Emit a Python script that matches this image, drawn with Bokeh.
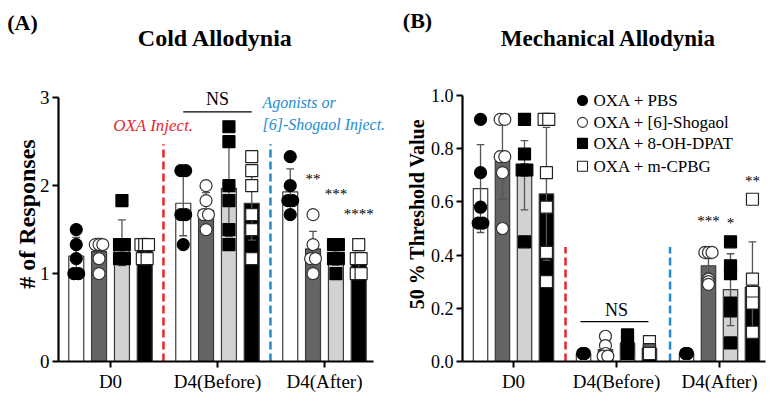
from bokeh.plotting import figure
from bokeh.layouts import row, column
from bokeh.models import Range1d, FixedTicker, Label
from bokeh.embed import file_html
from bokeh.resources import INLINE

# ---------------- data ----------------
timepoints = ["D0", "D4(Before)", "D4(After)"]
groups = ["OXA + PBS", "OXA + [6]-Shogaol", "OXA + 8-OH-DPAT", "OXA + m-CPBG"]

# Cold allodynia (# of responses)
cold_mean_pbs = [1.20, 1.80, 1.93]
cold_mean_shg = [1.25, 1.72, 1.28]
cold_mean_dpat = [1.35, 1.97, 1.22]
cold_mean_cpbg = [1.30, 1.80, 1.13]
cold_sd_pbs = [0.21, 0.37, 0.26]
cold_sd_shg = [0.15, 0.20, 0.20]
cold_sd_dpat = [0.26, 0.55, 0.12]
cold_sd_cpbg = [0.10, 0.42, 0.11]
cold_pts_pbs = [[1.5, 1.33, 1.17, 1.0, 1.0], [2.17, 2.17, 1.67, 1.67, 1.33], [2.33, 2.0, 1.83, 1.83, 1.67]]
cold_pts_shg = [[1.33, 1.33, 1.33, 1.17, 1.0], [2.0, 1.83, 1.67, 1.67, 1.5], [1.67, 1.33, 1.17, 1.17, 1.0]]
cold_pts_dpat = [[1.83, 1.33, 1.33, 1.17, 1.17], [2.67, 2.5, 2.0, 1.83, 1.5, 1.33], [1.33, 1.33, 1.17, 1.17, 1.0]]
cold_pts_cpbg = [[1.33, 1.33, 1.33, 1.17, 1.17], [2.33, 2.17, 2.0, 1.67, 1.5, 1.17], [1.33, 1.17, 1.17, 1.0, 1.0]]
cold_stars = ["", "**", "***", "****"]   # D4(After) vs OXA + PBS
cold_star_y = [0, 2.07, 1.90, 1.68]
cold_yticks = [0, 1, 2, 3]

# Mechanical allodynia (50 % threshold value)
mech_mean_pbs = [0.65, 0.03, 0.03]
mech_mean_shg = [0.76, 0.045, 0.36]
mech_mean_dpat = [0.70, 0.07, 0.27]
mech_mean_cpbg = [0.63, 0.05, 0.28]
mech_sd_pbs = [0.165, 0.004, 0.004]
mech_sd_shg = [0.15, 0.03, 0.027]
mech_sd_dpat = [0.13, 0.03, 0.135]
mech_sd_cpbg = [0.25, 0.02, 0.17]
mech_pts_pbs = [[0.91, 0.71, 0.58, 0.52, 0.52], [0.03, 0.03, 0.03, 0.03, 0.03], [0.03, 0.03, 0.03, 0.03, 0.03]]
mech_pts_shg = [[0.91, 0.91, 0.77, 0.77, 0.71, 0.50], [0.095, 0.06, 0.03, 0.02, 0.02], [0.41, 0.41, 0.41, 0.31, 0.30, 0.29]]
mech_pts_dpat = [[0.91, 0.78, 0.72, 0.72, 0.45], [0.10, 0.075, 0.05, 0.04, 0.03], [0.45, 0.36, 0.33, 0.22, 0.19, 0.07]]
mech_pts_cpbg = [[0.91, 0.91, 0.71, 0.58, 0.41, 0.30], [0.075, 0.045, 0.04, 0.035, 0.03], [0.61, 0.31, 0.26, 0.22, 0.11]]
mech_stars = ["", "***", "*", "**"]
mech_star_y = [0, 0.53, 0.52, 0.68]
mech_yticks = [0.0, 0.2, 0.4, 0.6, 0.8, 1.0]

# ---------------- style ----------------
SERIF = "Liberation Serif"
offsets = [-0.32, -0.107, 0.107, 0.32]
bar_fill = ["white", "#646464", "#d2d2d2", "black"]
mk_shape = ["circle", "circle", "square", "square"]
mk_fill = ["black", "white", "black", "white"]
mk_line = ["black", "#333333", "black", "#222222"]
RED = "#e8272c"
BLUE = "#1e8cd0"


def spread(vals, step=0.045):
    counts = {}
    for v in vals:
        counts[v] = counts.get(v, 0) + 1
    seen = {}
    out = []
    for v in vals:
        n = counts[v]
        k = seen.get(v, 0)
        seen[v] = k + 1
        maxw = 0.07 if n <= 3 else 0.016
        st = step if n <= 1 else min(step, maxw / (n - 1))
        out.append((k - (n - 1) / 2) * st)
    return out


def add_label(p, x, y, text, size, style="normal", color="black", align="center"):
    p.add_layout(Label(x=x, y=y, text=text, text_font=SERIF, text_font_size=size,
                       text_font_style=style, text_color=color, text_align=align,
                       text_baseline="middle"))


def title_fig(width, height):
    t = figure(width=width, height=height, output_backend="svg", toolbar_location=None,
               x_range=Range1d(0, width), y_range=Range1d(0, height),
               min_border_left=0, min_border_right=0, min_border_top=0, min_border_bottom=0)
    t.axis.visible = False
    t.grid.visible = False
    t.outline_line_color = None
    t.background_fill_color = "white"
    t.border_fill_color = "white"
    return t


def make_panel(width, height, border_left, border_top, border_bottom, x_start, x_end, ax_end,
               y_end, means, sds, pts, yticks, ybound, fmt, mksize, ylabel, ylabel_size):
    p = figure(width=width, height=height, output_backend="svg", toolbar_location=None,
               x_range=Range1d(x_start, x_end), y_range=Range1d(0, y_end),
               min_border_left=border_left, min_border_right=0, min_border_top=border_top,
               min_border_bottom=border_bottom)
    p.outline_line_color = None
    p.grid.visible = False
    p.background_fill_color = "white"
    p.border_fill_color = "white"

    for g in range(4):
        xs = [t + offsets[g] for t in range(3)]
        p.vbar(x=xs, top=means[g], width=0.14, bottom=0, fill_color=bar_fill[g],
               line_color="#3a3a3a", line_width=1.2)
        lo = [m - s for m, s in zip(means[g], sds[g])]
        hi = [m + s for m, s in zip(means[g], sds[g])]
        p.segment(x0=xs, y0=lo, x1=xs, y1=hi, line_color="#555555", line_width=1.3)
        p.segment(x0=[x - 0.037 for x in xs], y0=hi, x1=[x + 0.037 for x in xs], y1=hi,
                  line_color="#555555", line_width=1.3)
        p.segment(x0=[x - 0.037 for x in xs], y0=lo, x1=[x + 0.037 for x in xs], y1=lo,
                  line_color="#555555", line_width=1.3)
    for g in range(4):
        px, py = [], []
        for t in range(3):
            js = spread(pts[g][t])
            for v, j in zip(pts[g][t], js):
                px.append(t + offsets[g] + j)
                py.append(v)
        p.scatter(px, py, marker=mk_shape[g], size=mksize, fill_color=mk_fill[g],
                  line_color=mk_line[g], line_width=1.2)

    p.xaxis.ticker = FixedTicker(ticks=[0, 1, 2])
    p.xaxis.major_label_overrides = {i: t for i, t in enumerate(timepoints)}
    p.xaxis.bounds = (x_start, ax_end)
    p.yaxis.ticker = FixedTicker(ticks=yticks)
    p.yaxis.bounds = (0, ybound)
    p.yaxis.major_label_overrides = {v: fmt.format(v) for v in yticks}
    for ax in (p.xaxis[0], p.yaxis[0]):
        ax.axis_line_width = 2.2
        ax.axis_line_color = "black"
        ax.major_tick_line_width = 2
        ax.major_tick_line_color = "black"
        ax.major_tick_in = 0
        ax.major_tick_out = 6
        ax.minor_tick_line_color = None
        ax.major_label_text_font = SERIF
        ax.major_label_text_color = "black"
    p.xaxis.major_label_text_font_size = "19px"
    p.xaxis.major_label_standoff = 3
    p.yaxis.major_label_standoff = 3
    p.yaxis.axis_label = ylabel
    p.yaxis.axis_label_text_font = SERIF
    p.yaxis.axis_label_text_font_style = "bold"
    p.yaxis.axis_label_text_font_size = ylabel_size
    p.yaxis.axis_label_text_color = "black"
    return p


TOP = 63
# ---------------- titles ----------------
tA = title_fig(387, TOP)
add_label(tA, 22, TOP - 22, "(A)", "22px", "bold")
add_label(tA, 215, TOP - 37, "Cold Allodynia", "24px", "bold")
tB = title_fig(387, TOP)
add_label(tB, 30, TOP - 20, "(B)", "22px", "bold")
add_label(tB, 221, TOP - 38, "Mechanical Allodynia", "23px", "bold")

# ---------------- Panel A ----------------
cold_means = [cold_mean_pbs, cold_mean_shg, cold_mean_dpat, cold_mean_cpbg]
cold_sds = [cold_sd_pbs, cold_sd_shg, cold_sd_dpat, cold_sd_cpbg]
cold_pts = [cold_pts_pbs, cold_pts_shg, cold_pts_dpat, cold_pts_cpbg]
pA = make_panel(387, 404 - TOP, 58, 0, 43, -0.486, 2.589, 2.458, 3.355,
                cold_means, cold_sds, cold_pts, cold_yticks, 3, "{:d}", 12,
                "# of Responses", "24px")
pA.yaxis.major_label_text_font_size = "19px"
pA.yaxis.axis_label_standoff = -3

pA.segment(x0=[0.495], y0=[0], x1=[0.495], y1=[2.47], line_color=RED, line_width=2.5, line_dash="8 4")
pA.segment(x0=[1.495], y0=[0], x1=[1.495], y1=[2.47], line_color=BLUE, line_width=2.5, line_dash="8 4")
pA.segment(x0=[0.68], y0=[2.84], x1=[1.32], y1=[2.84], line_color="black", line_width=1.2)
add_label(pA, 1.0, 2.99, "NS", "18px")
add_label(pA, 0.40, 2.68, "OXA Inject.", "17px", "italic", RED)
add_label(pA, 1.42, 2.94, "Agonists or", "16px", "italic", BLUE, "left")
add_label(pA, 1.42, 2.69, "[6]-Shogaol Inject.", "16px", "italic", BLUE, "left")
for g in range(1, 4):
    add_label(pA, 2 + offsets[g], cold_star_y[g], cold_stars[g], "15px")

# ---------------- Panel B ----------------
mech_means = [mech_mean_pbs, mech_mean_shg, mech_mean_dpat, mech_mean_cpbg]
mech_sds = [mech_sd_pbs, mech_sd_shg, mech_sd_dpat, mech_sd_cpbg]
mech_pts = [mech_pts_pbs, mech_pts_shg, mech_pts_dpat, mech_pts_cpbg]
pB = make_panel(387, 404 - TOP, 75, 3, 42, -0.495, 2.534, 2.447, 1.109,
                mech_means, mech_sds, mech_pts, mech_yticks, 1.0, "{:.1f}", 12,
                "50 % Threshold Value", "20px")
pB.yaxis.major_label_text_font_size = "18px"
pB.yaxis.axis_label_standoff = 0

pB.segment(x0=[0.505], y0=[0], x1=[0.505], y1=[0.43], line_color=RED, line_width=2.5, line_dash="8 4")
pB.segment(x0=[1.52], y0=[0], x1=[1.52], y1=[0.43], line_color=BLUE, line_width=2.5, line_dash="8 4")
pB.segment(x0=[0.65], y0=[0.15], x1=[1.31], y1=[0.15], line_color="black", line_width=1.2)
add_label(pB, 1.0, 0.195, "NS", "18px")
for g in range(1, 4):
    add_label(pB, 2 + offsets[g], mech_star_y[g], mech_stars[g], "15px")

leg_y = [0.981, 0.899, 0.820, 0.734]
pB.scatter([0.67] * 4, leg_y, marker=mk_shape, size=10, fill_color=mk_fill, line_color=mk_line, line_width=1.1)
for g in range(4):
    add_label(pB, 0.777, leg_y[g], groups[g], "17px", align="left")

layout = column(row(tA, tB), row(pA, pB))
open("out.html", "w").write(file_html(layout, INLINE))
